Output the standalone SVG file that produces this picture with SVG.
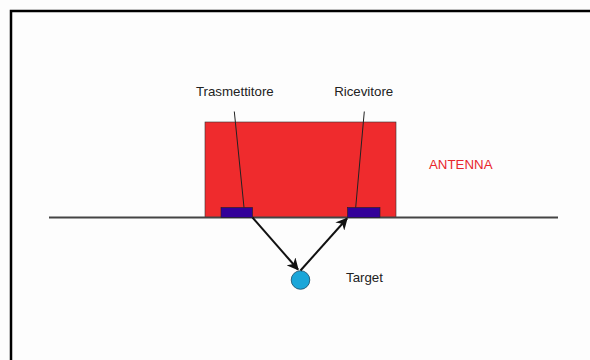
<svg xmlns="http://www.w3.org/2000/svg" width="590" height="360" viewBox="0 0 590 360">
<defs>
<style>
.lbl{font-family:"Liberation Sans",Arial,sans-serif;font-size:13.3px;fill:#222;}
.red{fill:#E8262B;}
.lead{stroke:#222;stroke-width:1;fill:none;}
.conn{stroke:#111;stroke-width:2;fill:none;}
.pad{fill:#330099;stroke:#222;stroke-width:0.6;}
</style>
<marker id="arr" viewBox="0 0 10 10" refX="9" refY="5" markerWidth="6" markerHeight="6" orient="auto" markerUnits="strokeWidth">
<path d="M0,0 L10,5 L0,10 L3,5 Z" fill="#111"/>
</marker>
</defs>
<rect x="0" y="0" width="590" height="360" fill="#FDFDFD"/>
<rect x="11" y="11" width="620" height="400" fill="none" stroke="#000" stroke-width="2.5"/>
<g id="antenna">
<rect x="205" y="122" width="191" height="95.5" fill="#EF2B2D" stroke="#333" stroke-width="0.6"/>
<text class="lbl red" x="429" y="168.5">ANTENNA</text>
</g>
<g id="ground">
<line x1="49" y1="217.5" x2="558" y2="217.5" stroke="#444" stroke-width="2"/>
</g>
<g id="trasmettitore">
<rect class="pad" x="221" y="207.5" width="31.5" height="10"/>
<text class="lbl" x="234.8" y="95.5" text-anchor="middle">Trasmettitore</text>
</g>
<g id="ricevitore">
<rect class="pad" x="347.5" y="207.5" width="32.5" height="10"/>
<text class="lbl" x="363.7" y="95.5" text-anchor="middle">Ricevitore</text>
</g>
<g id="target">
<circle cx="300.5" cy="280" r="9.3" fill="#1AA6D9" stroke="#1a4a66" stroke-width="0.8"/>
<text class="lbl" x="346" y="281.5">Target</text>
</g>
<g id="connectors">
<line class="lead" x1="234.3" y1="111.5" x2="244" y2="207.5"/>
<line class="lead" x1="364.3" y1="111.5" x2="355.7" y2="207.5"/>
<line class="conn" x1="252.5" y1="217.5" x2="298" y2="269.5" marker-end="url(#arr)"/>
<line class="conn" x1="300.5" y1="270.5" x2="347" y2="218.5" marker-end="url(#arr)"/>
</g>
</svg>
